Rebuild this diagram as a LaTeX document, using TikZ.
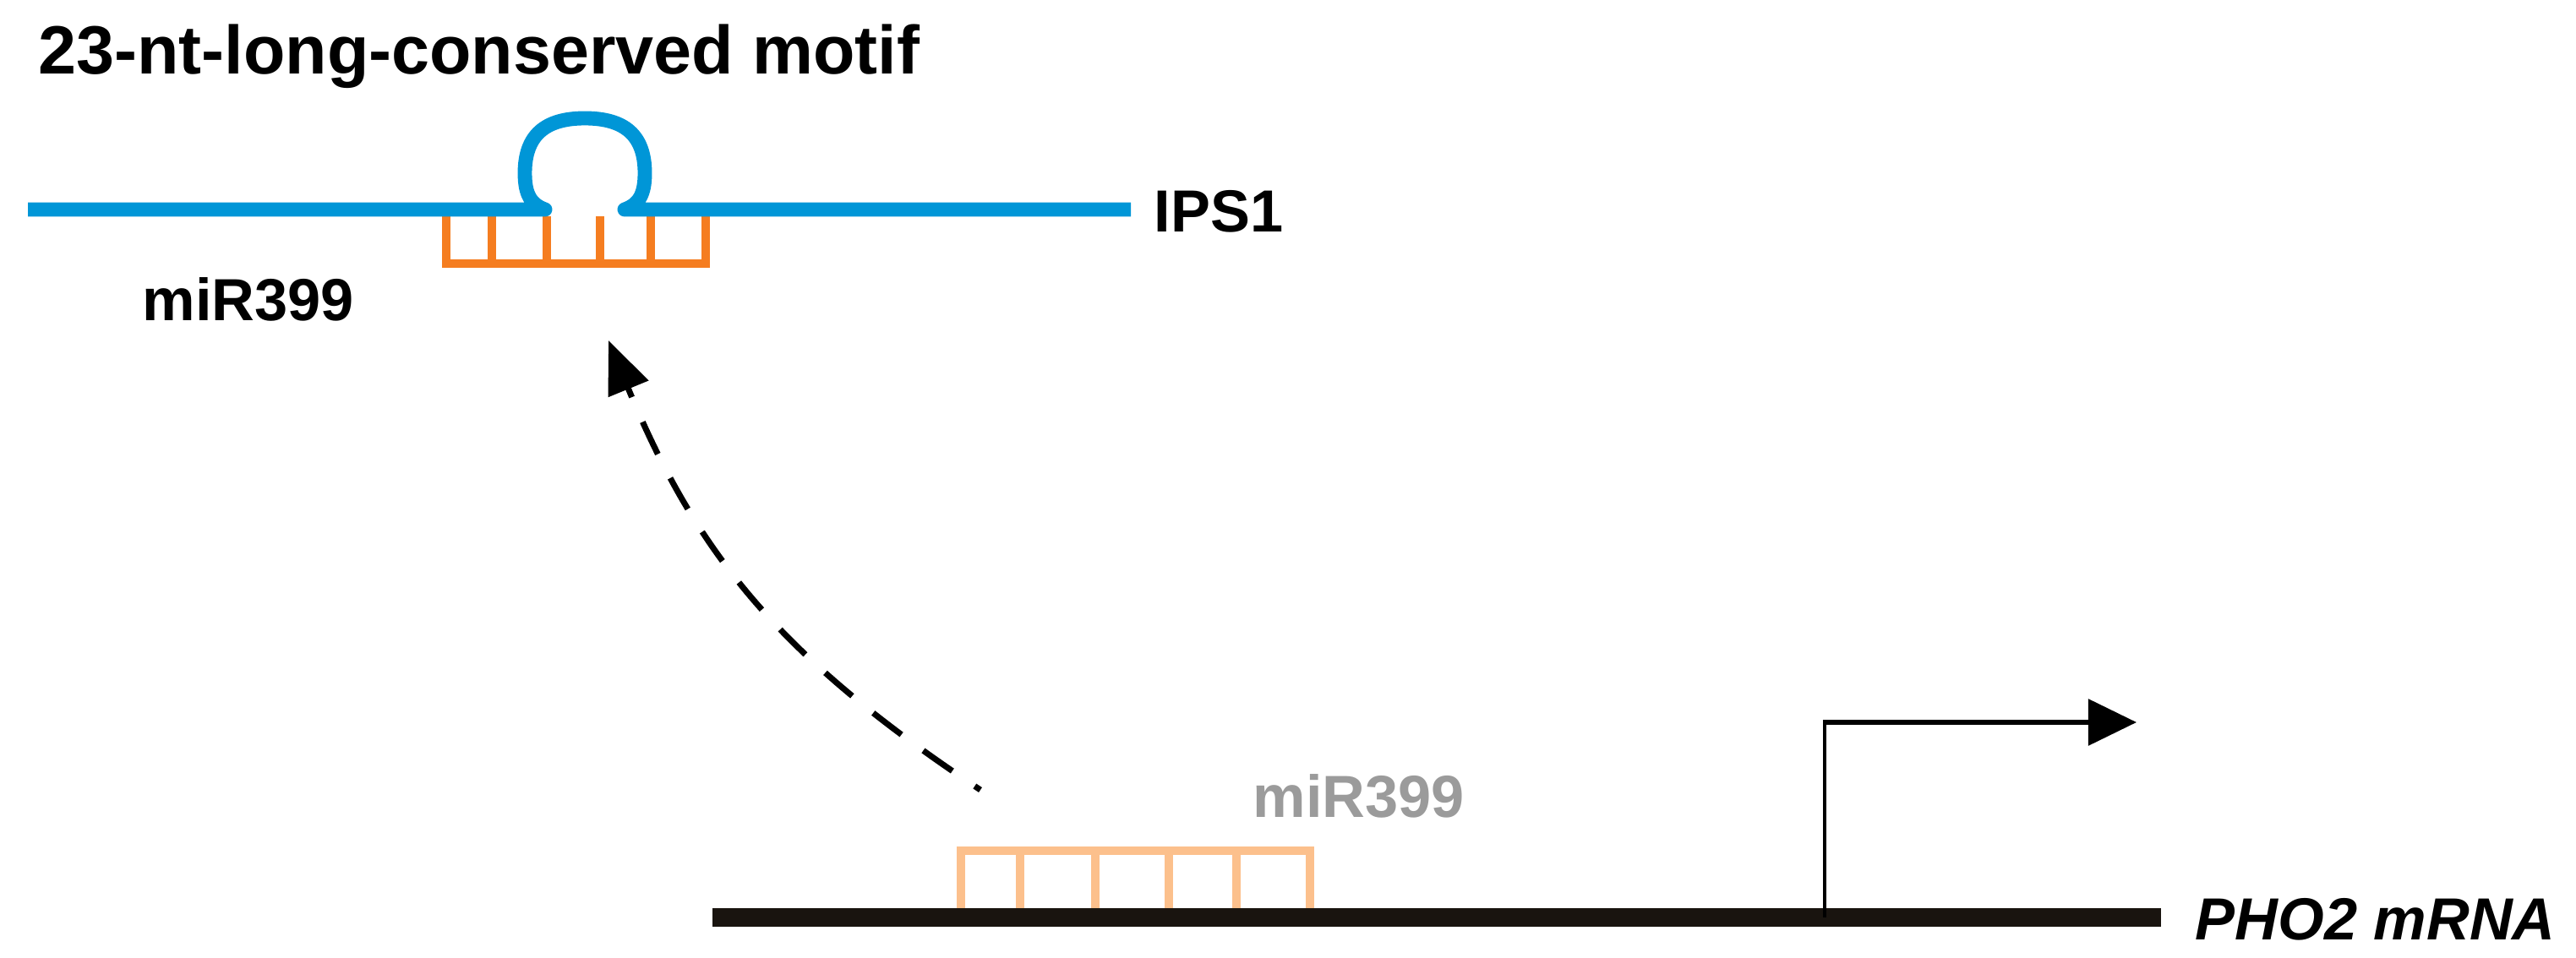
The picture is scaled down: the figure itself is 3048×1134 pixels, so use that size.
\documentclass[tikz,border=0pt]{standalone}
\usepackage{fontspec}
\setmainfont{Liberation Sans}
\usetikzlibrary{arrows.meta}
\definecolor{ipsblue}{RGB}{0,150,215}
\definecolor{mirorange}{RGB}{245,125,32}
\definecolor{mirpeach}{RGB}{252,192,140}
\definecolor{mirgrey}{RGB}{155,155,155}
\definecolor{mrnablack}{RGB}{25,20,15}
\begin{document}
\begin{tikzpicture}[x=0.01cm,y=-0.01cm,
  lbl/.style={font=\bfseries\fontsize{20}{24}\selectfont, inner sep=0pt, anchor=base west},
  ttl/.style={font=\bfseries\fontsize{23}{28}\selectfont, inner sep=0pt, anchor=base west},
  rnaline/.style={ipsblue, line width=4.8pt, line join=round},
  mrnaline/.style={mrnablack, line width=6pt},
  ladtop/.style={mirorange, line width=2.6pt, line join=miter},
  ladbot/.style={mirpeach, line width=2.85pt, line join=miter},
  movearrow/.style={black, line width=2pt, dash pattern=on 0.42cm off 0.32cm, dash phase=0.34cm,
     -{Triangle[length=0.62cm,width=0.5cm]}},
  tssarrow/.style={black, line width=1.7pt, -{Triangle[length=0.57cm,width=0.54cm]}},
  tssstem/.style={black, line width=1.15pt}]
\useasboundingbox (0,0) rectangle (3048,1134);
\fill[white] (0,0) rectangle (3048,1134);

% title
\node[ttl] (title) at (45,88) {23-nt-long-conserved motif};

% miR399 bound to IPS1 (top ladder)
\draw[ladtop] (528,250) -- (528,312) -- (835,312) -- (835,250);
\foreach \tx in {582,647,710,770}{
  \draw[ladtop] (\tx,256) -- (\tx,312);
}

% IPS1 strand with loop
\draw[rnaline] (33,248) -- (645,248)
  .. controls (628,242) and (621,230) .. (621,205)
  .. controls (621,160) and (645,140) .. (692,140)
  .. controls (739,140) and (763,160) .. (763,205)
  .. controls (763,230) and (756,242) .. (739,248)
  -- (1338,248);

\node[lbl] (ips) at (1365,275) {IPS1};
\node[lbl] (mirtop) at (168,380) {miR399};

% bottom: miR399 on PHO2 mRNA
\draw[ladbot] (1137,1080) -- (1137,1007) -- (1550,1007) -- (1550,1080);
\foreach \tx in {1207,1296,1383,1463}{
  \draw[ladbot] (\tx,1007) -- (\tx,1080);
}
\draw[mrnaline] (843,1086) -- (2557,1086);
\node[lbl, text=mirgrey] (mirbot) at (1482,967) {miR399};
\node[lbl, font=\bfseries\itshape\fontsize{20}{24}\selectfont] (pho) at (2597,1112) {PHO2 mRNA};

% transcription start arrow
\coordinate (tssbase) at (2159,1086);
\coordinate (tsscorner) at (2159,855);
\coordinate (tsstip) at (2528,855);
\draw[tssstem] (tssbase) -- ([yshift=-0.5pt]tsscorner);
\draw[tssarrow] ([xshift=-0.6pt]tsscorner) -- (tsstip);

% dashed arrow
\coordinate (arrS) at (1160,935);
\coordinate (arrT) at (720,403);
\draw[movearrow] (arrS) .. controls (928,781) and (826,661) .. (arrT);
\end{tikzpicture}
\end{document}
